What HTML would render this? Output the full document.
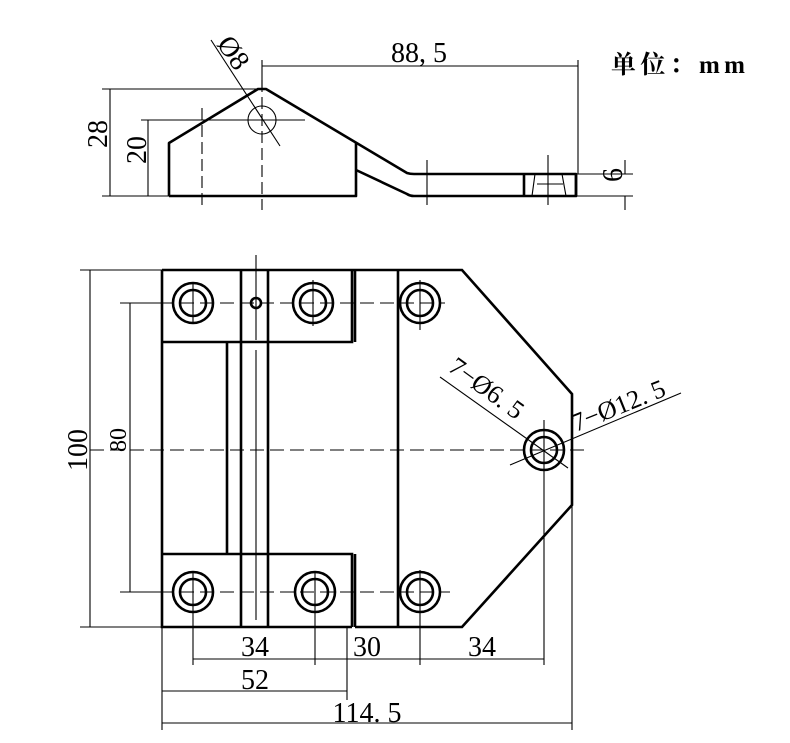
<!DOCTYPE html>
<html><head><meta charset="utf-8"><style>
html,body{margin:0;padding:0;background:#fff}
svg{display:block}
text{font-family:"Liberation Serif","Noto Serif CJK SC",serif;fill:#000}
</style></head><body>
<svg width="790" height="743" viewBox="0 0 790 743" xmlns="http://www.w3.org/2000/svg">
<g fill="none" stroke="#000">
<!-- TOP VIEW -->
<g stroke-width="2.6" stroke-linejoin="round">
<path d="M169,196 V143 L258,89 H266 L407,173 Q410,174 414,174 H576 V196 H414 Q410,196 407,194 L356,170"/>
<path d="M169,196 H356 V143"/>
<path d="M524,174 V196 M576,174 V196"/>
</g>
<g stroke-width="1.1">
<path d="M535,174 L532,196 M562,174 L566,196 M537,184 H563"/>
<circle cx="262" cy="120" r="14"/>
<path d="M102,89 H262 M141,120 H305 M576,174 H633 M576,196 H633 M262,60 V89 M578,60 V174"/>
<path d="M110,89 V196 M148,120 V196 M102,196 H169 M625,160 V174 M625,196 V210 M262,66 H578"/>
<path d="M211,40 L280,146"/>
<path d="M202,108 V205 M262,80 V210" stroke-dasharray="12,5"/>
<path d="M427,160 V205 M548,155 V205 M540,184 H556"/>
</g>
<!-- MAIN VIEW -->
<g stroke-width="2.6">
<path d="M162,270 H462 L572,394 V505 L462,627 H355"/>
<path d="M162,270 V627 H352"/>
<path d="M162,342 H352 V270 M355,270 V342 M162,554 H352 V627 M355,554 V627"/>
<path d="M398,270 V627"/>
<path d="M241,270 V627 M268,270 V627 M227,342 V554"/>
<circle cx="193" cy="303" r="20"/><circle cx="193" cy="303" r="13"/>
<circle cx="313" cy="303" r="20"/><circle cx="313" cy="303" r="13"/>
<circle cx="420" cy="303" r="20"/><circle cx="420" cy="303" r="13"/>
<circle cx="193" cy="592" r="20"/><circle cx="193" cy="592" r="13"/>
<circle cx="315" cy="592" r="20"/><circle cx="315" cy="592" r="13"/>
<circle cx="420" cy="592" r="20"/><circle cx="420" cy="592" r="13"/>
<circle cx="544" cy="450" r="20"/><circle cx="544" cy="450" r="13"/>
<circle cx="256" cy="303" r="5"/>
</g>
<g stroke-width="1.1">
<path d="M120,303 H445 M120,592 H450 M90,450 H590" stroke-dasharray="14,6"/>
<path d="M193,283 V323 M313,280 V326 M420,280 V330 M256,255 V340 M256,350 V620" />
<path d="M193,572 V665 M315,572 V665 M420,570 V665 M544,420 V665 M572,505 V730 M162,627 V730 M347,627 V700"/>
<path d="M80,270 H162 M120,303 H162 M120,592 H162 M80,627 H162"/>
<path d="M90,270 V627 M130,303 V592"/>
<path d="M193,659 H544 M162,691 H347 M162,723 H572"/>
<path d="M440,377 L568,468 M510,465 L681,393"/>
</g>
</g>
<g font-size="28">
<text x="419" y="62" text-anchor="middle">88, 5</text>
<text transform="translate(107,134) rotate(-90)" text-anchor="middle">28</text>
<text transform="translate(146,150) rotate(-90)" text-anchor="middle">20</text>
<text transform="translate(226,58) rotate(55)" text-anchor="middle">Ø8</text>
<text transform="translate(622,175) rotate(-90)" text-anchor="middle">6</text>
<text transform="translate(87,450) rotate(-90)" text-anchor="middle">100</text>
<text transform="translate(126,440) rotate(-90)" text-anchor="middle" font-family="Liberation Sans,sans-serif" font-size="24">80</text>
<text x="255" y="656" text-anchor="middle">34</text>
<text x="367" y="656" text-anchor="middle">30</text>
<text x="482" y="656" text-anchor="middle">34</text>
<text x="255" y="689" text-anchor="middle">52</text>
<text x="367" y="722" text-anchor="middle">114. 5</text>
<text transform="translate(447,370) rotate(36)" font-size="26">7−Ø6. 5</text>
<text transform="translate(576,432) rotate(-22)" font-size="26">7−Ø12. 5</text>
</g>
<text x="611" y="73" font-family="'Noto Sans CJK SC',sans-serif" font-size="25" font-weight="bold" textLength="134" lengthAdjust="spacing">单位：mm</text>
</svg>
</body></html>
